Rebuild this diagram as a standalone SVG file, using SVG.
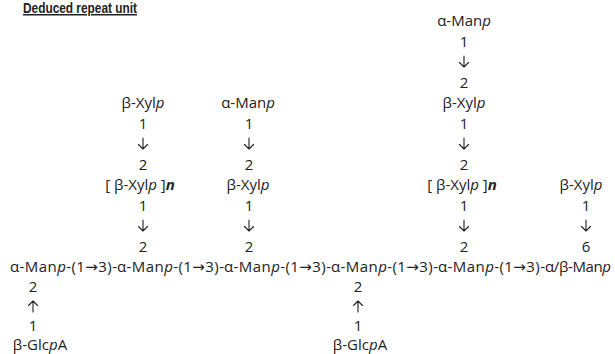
<svg xmlns="http://www.w3.org/2000/svg" width="615" height="354" viewBox="0 0 615 354">
<style>
text{font-family:"Open Sans","Noto Sans","DejaVu Sans",sans-serif;font-size:15px;fill:#222}
.m{text-anchor:middle}
.i{font-style:italic}
.b{font-weight:bold;font-style:italic}
.t{font-family:"Liberation Sans",Arial,sans-serif;font-weight:bold;font-size:15px;text-decoration:underline}
.ar{fill:none;stroke:#222;stroke-width:1.1;stroke-linecap:round;stroke-linejoin:round}
</style>
<defs>
<path id="dn" class="ar" d="M0,-12 V-1 M-4.5,-5.5 L0,-1 L4.5,-5.5"/>
<path id="up" class="ar" d="M0,-1 V-12 M-4.5,-7.5 L0,-12 L4.5,-7.5"/>
</defs>
<rect width="615" height="354" fill="#fff"/>
<text class="t" x="23" y="13" textLength="114" lengthAdjust="spacingAndGlyphs">Deduced repeat unit</text>
<g id="backbone">
<text x="10" y="272" textLength="107">α-Man<tspan class="i">p</tspan>-(1→3)-</text>
<text x="117" y="272" textLength="107">α-Man<tspan class="i">p</tspan>-(1→3)-</text>
<text x="224" y="272" textLength="107">α-Man<tspan class="i">p</tspan>-(1→3)-</text>
<text x="331" y="272" textLength="107">α-Man<tspan class="i">p</tspan>-(1→3)-</text>
<text x="438" y="272" textLength="107">α-Man<tspan class="i">p</tspan>-(1→3)-</text>
<text x="545" y="272" textLength="66">α/β-Man<tspan class="i">p</tspan></text>
</g>
<g id="col1">
<text class="m" x="143" y="108">β-Xyl<tspan class="i">p</tspan></text>
<text class="m" x="140" y="190">[ β-Xyl<tspan class="i">p</tspan> ]<tspan class="b">n</tspan></text>
</g>
<g id="col2">
<text class="m" x="248" y="108">α-Man<tspan class="i">p</tspan></text>
<text class="m" x="248" y="190">β-Xyl<tspan class="i">p</tspan></text>
</g>
<g id="col3">
<text class="m" x="464" y="26">α-Man<tspan class="i">p</tspan></text>
<text class="m" x="464" y="108">β-Xyl<tspan class="i">p</tspan></text>
<text class="m" x="462" y="190">[ β-Xyl<tspan class="i">p</tspan> ]<tspan class="b">n</tspan></text>
</g>
<g id="col4">
<text class="m" x="581" y="190">β-Xyl<tspan class="i">p</tspan></text>
</g>
<g id="glca1">
<text class="m" x="40" y="350">β-Glc<tspan class="i">p</tspan>A</text>
</g>
<g id="glca2">
<text class="m" x="360" y="350">β-Glc<tspan class="i">p</tspan>A</text>
</g>
<g id="connectors">
<g class="m">
<text x="143" y="128.5">1</text><text x="143" y="169.5">2</text>
<text x="143" y="210.5">1</text><text x="143" y="251.5">2</text>
<text x="249" y="128.5">1</text><text x="249" y="169.5">2</text>
<text x="249" y="210.5">1</text><text x="249" y="251.5">2</text>
<text x="464" y="46.5">1</text><text x="464" y="87.5">2</text>
<text x="464" y="128.5">1</text><text x="464" y="169.5">2</text>
<text x="464" y="210.5">1</text><text x="464" y="251.5">2</text>
<text x="586" y="210.5">1</text><text x="586" y="251.5">6</text>
<text x="33" y="292">2</text><text x="33" y="331">1</text>
<text x="358" y="292">2</text><text x="358" y="331">1</text>
</g>
<use href="#dn" x="143" y="150"/><use href="#dn" x="143" y="232"/>
<use href="#dn" x="249" y="150"/><use href="#dn" x="249" y="232"/>
<use href="#dn" x="464" y="68"/><use href="#dn" x="464" y="150"/><use href="#dn" x="464" y="232"/>
<use href="#dn" x="586" y="232"/>
<use href="#up" x="33" y="313"/><use href="#up" x="358" y="313"/>
</g>
</svg>
